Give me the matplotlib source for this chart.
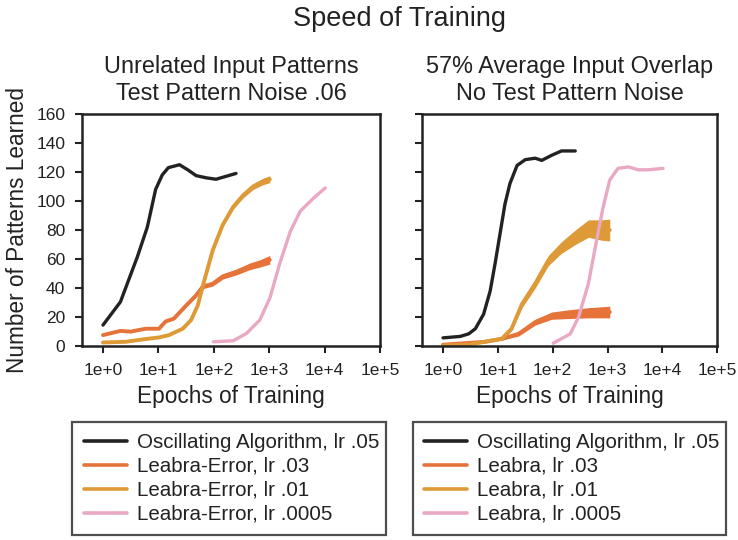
import numpy as np
import matplotlib
matplotlib.use("Agg")
import matplotlib.pyplot as plt
from matplotlib.ticker import FixedLocator, FixedFormatter

plt.rcParams['font.family'] = ['Liberation Sans', 'DejaVu Sans']

# ---- data (x in log10 epochs, y = patterns learned) ----
# left panel: unrelated input patterns
L_osc_lx = [0.0, 0.315, 0.62, 0.80, 0.95, 1.07, 1.18, 1.38, 1.53, 1.68, 1.86, 2.04, 2.22, 2.40]
L_osc_y = [14.5, 30.5, 61.5, 82, 108, 118, 123, 125, 121.5, 117.5, 116, 115, 117, 119]

L_03_lx = [0.0, 0.315, 0.50, 0.77, 1.01, 1.13, 1.28, 1.50, 1.68, 1.80, 1.98, 2.16, 2.40, 2.65, 2.83, 3.01]
L_03_y = [7.6, 10.5, 10, 12, 12, 17, 19, 28, 35, 41, 43, 48, 51, 55, 57, 59.5]
L_03_sp = [0, 0, 0, 0, 0.3, 0.5, 0.8, 1.0, 1.2, 1.4, 1.6, 1.8, 2.0, 2.3, 2.5, 3.0]

L_01_lx = [0.0, 0.41, 0.71, 1.01, 1.19, 1.44, 1.59, 1.71, 1.83, 1.98, 2.16, 2.35, 2.53, 2.71, 2.89, 3.01]
L_01_y = [2.5, 3, 4.6, 6, 7.6, 12, 18, 28, 45.5, 66, 83.5, 96, 104, 110, 113.5, 115]
L_01_sp = [0, 0, 0, 0, 0, 0.3, 0.5, 0.8, 1.0, 1.2, 1.4, 1.6, 1.8, 2.0, 2.2, 2.4]

L_0005_lx = [1.99, 2.35, 2.59, 2.83, 3.01, 3.19, 3.38, 3.56, 3.80, 4.01]
L_0005_y = [3, 3.7, 8.8, 18, 33, 57, 79, 93, 102, 109]

# right panel: 57% average input overlap
R_osc_lx = [0.0, 0.315, 0.47, 0.59, 0.74, 0.86, 0.95, 1.04, 1.13, 1.22, 1.35, 1.50, 1.68, 1.80, 1.98, 2.16, 2.41]
R_osc_y = [5.7, 6.7, 8.5, 12, 22, 38, 57, 77.5, 98, 112, 124.5, 128.5, 129.5, 128, 131.5, 134.5, 134.5]

R_03_lx = [0.0, 0.77, 1.07, 1.38, 1.68, 1.98, 2.28, 2.65, 3.04]
R_03_y = [1, 3, 5, 8.5, 16.5, 21, 22, 23, 23.5]
R_03_sp = [0, 0.3, 0.8, 1.5, 2.0, 2.5, 3.0, 3.5, 4.0]

R_01_lx = [0.0, 0.47, 0.83, 1.07, 1.25, 1.44, 1.68, 1.92, 2.16, 2.41, 2.65, 2.89, 3.04]
R_01_y = [0.5, 1, 3.5, 5, 12, 29, 43, 59, 68, 75, 81, 80, 80]
R_01_sp = [0, 0, 0.3, 0.8, 1.5, 2.5, 3.0, 3.5, 4.0, 5.0, 6.0, 7.0, 7.5]

R_0005_lx = [2.01, 2.32, 2.47, 2.65, 2.80, 2.92, 3.04, 3.19, 3.38, 3.56, 3.74, 4.01]
R_0005_y = [2, 8.5, 20, 43, 73, 96, 114.5, 122.5, 123.5, 121.5, 121.5, 122.5]

left_labels = ["Oscillating Algorithm, lr .05", "Leabra-Error, lr .03",
               "Leabra-Error, lr .01", "Leabra-Error, lr .0005"]
right_labels = ["Oscillating Algorithm, lr .05", "Leabra, lr .03",
                "Leabra, lr .01", "Leabra, lr .0005"]
xtick_vals = [1, 10, 100, 1000, 10000, 100000]
xtick_text = ["1e+0", "1e+1", "1e+2", "1e+3", "1e+4", "1e+5"]

C_BLACK = "#222222"
C_ORANGE = "#e6733a"
C_GOLD = "#de9a36"
C_PINK = "#e9a8c3"


def panel(ax, series, labels, title, show_ylabels):
    lines = []
    for (lx, y, sp), col, lw, lab in zip(series, [C_BLACK, C_ORANGE, C_GOLD, C_PINK],
                                         [2.4, 2.8, 2.8, 2.4], labels):
        x = np.power(10.0, lx)
        y = np.array(y)
        if sp is not None:
            sp = np.array(sp)
            ax.fill_between(x, y - sp, y + sp, color=col, lw=0)
        ln, = ax.plot(x, y, color=col, lw=lw, label=lab, solid_capstyle='round')
        lines.append(ln)
    ax.set_xscale('log')
    ax.set_xlim(10 ** -0.38, 1e5)
    ax.set_ylim(0, 160)
    ax.xaxis.set_major_locator(FixedLocator(xtick_vals))
    ax.xaxis.set_major_formatter(FixedFormatter(xtick_text))
    ax.xaxis.set_minor_locator(FixedLocator([]))
    ax.set_yticks(range(0, 161, 20))
    if not show_ylabels:
        ax.set_yticklabels([])
    for s in ax.spines.values():
        s.set_linewidth(1.8)
        s.set_color(C_BLACK)
    ax.tick_params(direction='out', length=5, width=1.5, labelsize=12.5,
                   colors=C_BLACK, pad=7)
    ax.set_xlabel("Epochs of Training", fontsize=16.3, color=C_BLACK, labelpad=5)
    ax.set_title(title, fontsize=16.9, color=C_BLACK, pad=10, linespacing=1.25)
    return lines


fig = plt.figure(figsize=(7.38, 5.4), dpi=100)
axL = fig.add_axes([0.111, 0.359, 0.404, 0.430])
axR = fig.add_axes([0.572, 0.359, 0.400, 0.430])

linesL = panel(axL, [(L_osc_lx, L_osc_y, None), (L_03_lx, L_03_y, L_03_sp),
                     (L_01_lx, L_01_y, L_01_sp), (L_0005_lx, L_0005_y, None)],
               left_labels, "Unrelated Input Patterns\nTest Pattern Noise .06", True)
linesR = panel(axR, [(R_osc_lx, R_osc_y, None), (R_03_lx, R_03_y, R_03_sp),
                     (R_01_lx, R_01_y, R_01_sp), (R_0005_lx, R_0005_y, None)],
               right_labels, "57% Average Input Overlap\nNo Test Pattern Noise", False)

axL.set_ylabel("Number of Patterns Learned", fontsize=16.3, color=C_BLACK, labelpad=5)

fig.text(0.542, 0.965, "Speed of Training", ha='center', va='center',
         fontsize=19.5, color=C_BLACK)

for ax, lines, labels, x0 in [(axL, linesL, left_labels, 0.098), (axR, linesR, right_labels, 0.559)]:
    leg = fig.legend(lines, labels, loc='upper left', bbox_to_anchor=(x0, 0.219, 0.425, 0.0),
                     mode='expand', bbox_transform=fig.transFigure, fontsize=14.8,
                     frameon=True, fancybox=False, borderaxespad=0, handlelength=2.1,
                     handletextpad=0.5, labelspacing=0.24, borderpad=0.55)
    leg.get_frame().set_edgecolor(C_BLACK)
    leg.get_frame().set_linewidth(1.6)
    for t in leg.get_texts():
        t.set_color(C_BLACK)
    for h in leg.legend_handles:
        h.set_linewidth(2.6)

fig.savefig("out.png", dpi=100)
